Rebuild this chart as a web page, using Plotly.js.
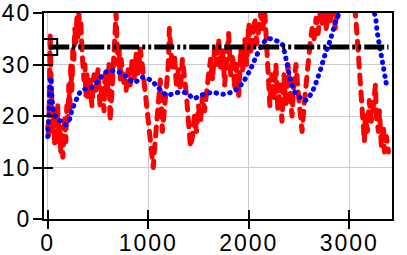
<!DOCTYPE html>
<html>
<head>
<meta charset="utf-8">
<script src="https://cdn.plot.ly/plotly-3.0.1.min.js"></script>
<style>
  html, body { margin: 0; padding: 0; background: #fff; }
  #chart { width: 407px; height: 255px; }
  .xtick text, .ytick text { letter-spacing: 2px; }
</style>
</head>
<body>
<div id="chart"></div>
<script>
// noisy series (red, dashed)
var noisyX = [0, 10, 20, 25, 32, 40, 50, 60, 70, 80, 90, 100, 110, 120, 130, 140, 150, 160, 170, 180,
  190, 200, 210, 220, 230, 240, 250, 260, 270, 280, 290, 300, 310, 320, 330, 340, 350, 360, 370, 380,
  390, 400, 420, 440, 460, 480, 500, 520, 540, 560, 570, 590, 610, 620, 640, 660, 670, 680, 690, 700,
  710, 720, 730, 750, 760, 780, 800, 820, 840, 860, 880, 900, 920, 940, 960, 980, 1000, 1020, 1040, 1050,
  1060, 1080, 1100, 1120, 1130, 1140, 1160, 1180, 1200, 1210, 1220, 1240, 1260, 1280, 1300, 1320, 1340, 1360, 1380, 1400,
  1420, 1440, 1460, 1480, 1500, 1520, 1540, 1560, 1580, 1600, 1620, 1640, 1660, 1680, 1700, 1720, 1740, 1760, 1780, 1800,
  1820, 1840, 1860, 1880, 1900, 1920, 1940, 1960, 1980, 2000, 2020, 2040, 2060, 2080, 2100, 2120, 2140, 2160, 2180, 2200,
  2210, 2230, 2250, 2270, 2290, 2310, 2330, 2350, 2370, 2390, 2410, 2430, 2450, 2470, 2490, 2510, 2530, 2550, 2570, 2590,
  2610, 2630, 2650, 2670, 2690, 2710, 2730, 2750, 2770, 2790, 2810, 2840, 2860, 2880, 2900, 2960, 3000, 3030, 3060, 3080,
  3100, 3120, 3140, 3150, 3160, 3180, 3200, 3220, 3240, 3260, 3270, 3290, 3300, 3320, 3340, 3350, 3370, 3390];
var noisyY = [18, 16, 30, 36, 28, 20, 17, 21, 14, 19, 16, 22, 15, 18, 13, 17, 12, 16, 20, 15,
  22, 19, 26, 21, 30, 25, 33, 31, 37, 34, 39, 35, 40, 36, 38, 33, 31, 27, 30, 24,
  28, 23, 27, 22, 28, 25, 29, 22, 26, 21, 28, 24, 30, 19, 25, 31, 37, 40, 34, 30,
  33, 27, 31, 28, 26, 25, 29, 26, 31, 27, 32, 28, 33, 30, 26, 22, 18, 14, 11, 10,
  13, 18, 23, 27, 22, 17, 21, 25, 30, 37, 33, 29, 32, 26, 29, 25, 31, 28, 24, 19,
  14, 16, 20, 17, 22, 19, 24, 21, 26, 28, 31, 27, 33, 30, 35, 29, 33, 26, 31, 36,
  28, 32, 25, 30, 24, 33, 29, 35, 30, 38, 32, 36, 39, 34, 38, 40, 37, 40, 33, 26,
  22, 28, 23, 30, 21, 26, 19, 28, 22, 30, 24, 20, 27, 30, 25, 20, 17, 22, 27, 31,
  34, 37, 35, 39, 36, 40, 38, 41, 37, 40, 38, 42, 37, 40, 43, 48, 47, 44, 40, 35,
  30, 24, 18, 15, 20, 17, 23, 19, 22, 26, 20, 17, 21, 14, 18, 13, 16, 13];

// smooth series (blue, dotted)
var smoothX = [0, 15, 30, 45, 60, 90, 130, 180, 220, 240, 290, 340, 430, 510, 560, 620, 710, 790, 860, 940,
  1020, 1110, 1190, 1250, 1320, 1390, 1450, 1520, 1590, 1650, 1720, 1790, 1870, 1940, 2010, 2070, 2140, 2190, 2260, 2330,
  2360, 2410, 2460, 2510, 2560, 2610, 2660, 2710, 2760, 2810, 2860, 2900, 2950, 3050, 3150, 3250, 3280, 3310, 3340, 3375];
var smoothY = [16, 22, 27.5, 23, 21, 19.5, 19, 18.3, 19.5, 21, 23.4, 25, 25.5, 27, 28.3, 28.8, 28.5, 27.5, 26.5, 27.5,
  27, 25.3, 24, 24.4, 24.6, 24.4, 23.4, 24, 24.4, 24.6, 24.2, 24.4, 25, 26.5, 28.8, 31.4, 34, 35, 34.7, 34,
  32, 27.5, 24.6, 23.6, 23, 24, 26, 28.8, 32, 34.7, 38, 40, 43, 45, 44, 40, 36, 32.7, 29.4, 25.5];

// reference level (black, dash-dot)
var levelX = [15, 3390];
var levelY = [33.4, 33.4];

var xTicks = [0, 1000, 2000, 3000];
var yTicks = [0, 10, 20, 30, 40];

var traces = [
  {
    x: noisyX, y: noisyY, mode: 'lines', showlegend: false,
    line: { color: '#ff0000', width: 5, dash: '9px,8px' }
  },
  {
    x: smoothX, y: smoothY, mode: 'lines', showlegend: false,
    line: { shape: 'spline', color: '#0000ff', width: 5, dash: '0.5px,6.5px' }
  },
  {
    x: levelX, y: levelY, mode: 'lines', showlegend: false,
    line: { color: '#000000', width: 5, dash: '20px,3px,3px,3px,3px,3px' }
  },
  {
    x: [levelX[0]], y: [levelY[0]], mode: 'markers', showlegend: false,
    marker: { symbol: 'square-open', size: 16, color: '#000000', line: { width: 2, color: '#000000' } }
  },
  { x: [], y: [], xaxis: 'x2', yaxis: 'y2', showlegend: false }
];

var tickFont = { family: 'Liberation Sans, Arial, sans-serif', size: 23, color: '#000' };

var layout = {
  width: 407, height: 255,
  margin: { l: 44, r: 15, t: 13, b: 36 },
  paper_bgcolor: '#fff', plot_bgcolor: '#fff',
  showlegend: false,
  xaxis: {
    range: [-37, 3425], tickvals: xTicks, ticktext: xTicks.map(String),
    ticks: 'inside', ticklen: 9, tickwidth: 2, tickcolor: '#000',
    ticklabelstandoff: 2,
    showline: true, linecolor: '#000', linewidth: 2, mirror: true,
    showgrid: true, gridcolor: '#cccccc', gridwidth: 1, zeroline: false,
    tickfont: tickFont
  },
  yaxis: {
    range: [0, 40], tickvals: yTicks, ticktext: yTicks.map(String),
    ticks: 'inside', ticklen: 9, tickwidth: 2, tickcolor: '#000',
    ticklabelstandoff: 6,
    showline: true, linecolor: '#000', linewidth: 2, mirror: true,
    showgrid: true, gridcolor: '#cccccc', gridwidth: 1, zeroline: false,
    tickfont: tickFont
  },
  xaxis2: {
    overlaying: 'x', anchor: 'y2', range: [-37, 3425], tickvals: xTicks,
    ticks: 'outside', ticklen: 9, tickwidth: 2, tickcolor: '#000',
    showticklabels: false, showgrid: false, showline: false, zeroline: false
  },
  yaxis2: {
    overlaying: 'y', anchor: 'x2', range: [0, 40], tickvals: yTicks,
    ticks: 'outside', ticklen: 10, tickwidth: 2, tickcolor: '#000',
    showticklabels: false, showgrid: false, showline: false, zeroline: false
  }
};

Plotly.newPlot('chart', traces, layout, { staticPlot: true }).then(function () {
  var groups = document.querySelectorAll('.scatterlayer .trace');
  [0, 1].forEach(function (i) {
    if (!groups[i]) return;
    groups[i].querySelectorAll('path.js-line').forEach(function (p) {
      p.style.strokeLinecap = 'round';
      p.style.strokeLinejoin = 'round';
    });
  });
});
</script>
</body>
</html>
